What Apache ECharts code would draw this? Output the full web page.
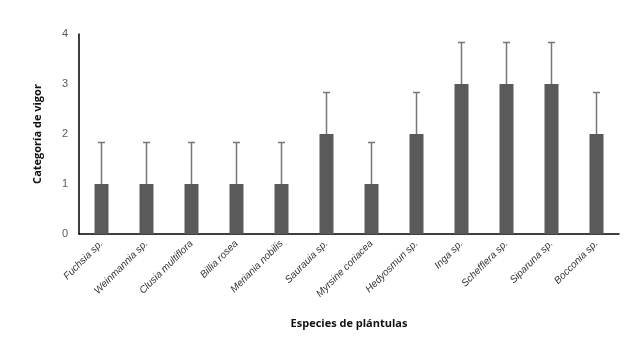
<!DOCTYPE html>
<html>
<head>
<meta charset="utf-8">
<script src="https://cdn.jsdelivr.net/npm/echarts@6/dist/echarts.min.js"></script>
<style>
  html, body { margin: 0; padding: 0; background: #fff; }
  #chart { width: 642px; height: 340px; }
</style>
</head>
<body>
<div id="chart"></div>
<script>
  // especies y categoría media de vigor
  var especies = ['Fuchsia sp.', 'Weinmannia sp.', 'Clusia multiflora', 'Billia rosea',
    'Meriania nobilis', 'Saurauia sp.', 'Myrsine coriacea', 'Hedyosmun sp.',
    'Inga sp.', 'Schefflera sp.', 'Siparuna sp.', 'Bocconia sp.'];
  var vigor = [1, 1, 1, 1, 1, 2, 1, 2, 3, 3, 3, 2];
  var error = [0.83, 0.83, 0.83, 0.83, 0.83, 0.83, 0.83, 0.83, 0.83, 0.83, 0.83, 0.83];

  var chart = echarts.init(document.getElementById('chart'));

  var errData = vigor.map(function (v, i) { return [i, v, v + error[i]]; });

  var option = {
    animation: false,
    grid: { left: 79, right: 23, top: 34, bottom: 106 },
    xAxis: {
      type: 'category',
      data: especies,
      name: 'Especies de plántulas',
      nameLocation: 'middle',
      nameGap: 84,
      nameTextStyle: { fontFamily: 'Open Sans', fontWeight: 'bold', fontSize: 11, color: '#111' },
      axisLine: { lineStyle: { color: '#000', width: 1.5 } },
      axisTick: { show: false },
      axisLabel: {
        rotate: 45, interval: 0, margin: 8,
        fontFamily: 'Liberation Sans', fontStyle: 'italic', fontSize: 10, color: '#333'
      }
    },
    yAxis: {
      type: 'value',
      min: 0, max: 4, interval: 1,
      name: 'Categoría de vigor',
      nameLocation: 'middle',
      nameGap: 36,
      nameTextStyle: { fontFamily: 'Open Sans', fontWeight: 'bold', fontSize: 11, color: '#111' },
      axisLine: { show: true, lineStyle: { color: '#000', width: 1.5 } },
      axisTick: { show: false },
      splitLine: { show: false },
      axisLabel: { fontFamily: 'Liberation Sans', fontSize: 11, color: '#595959', margin: 11 }
    },
    series: [
      {
        type: 'bar',
        data: vigor,
        barWidth: 14,
        itemStyle: { color: '#5a5a5a' }
      },
      {
        type: 'custom',
        data: errData,
        z: 1,
        renderItem: function (params, api) {
          var x = api.value(0);
          var lo = api.coord([x, api.value(1)]);
          var hi = api.coord([x, api.value(2)]);
          var style = { stroke: '#777', lineWidth: 1.5 };
          return {
            type: 'group',
            children: [
              { type: 'line', shape: { x1: lo[0], y1: lo[1], x2: hi[0], y2: hi[1] }, style: style },
              { type: 'line', shape: { x1: hi[0] - 3.5, y1: hi[1], x2: hi[0] + 3.5, y2: hi[1] }, style: style }
            ]
          };
        }
      }
    ]
  };

  chart.setOption(option);
</script>
</body>
</html>
